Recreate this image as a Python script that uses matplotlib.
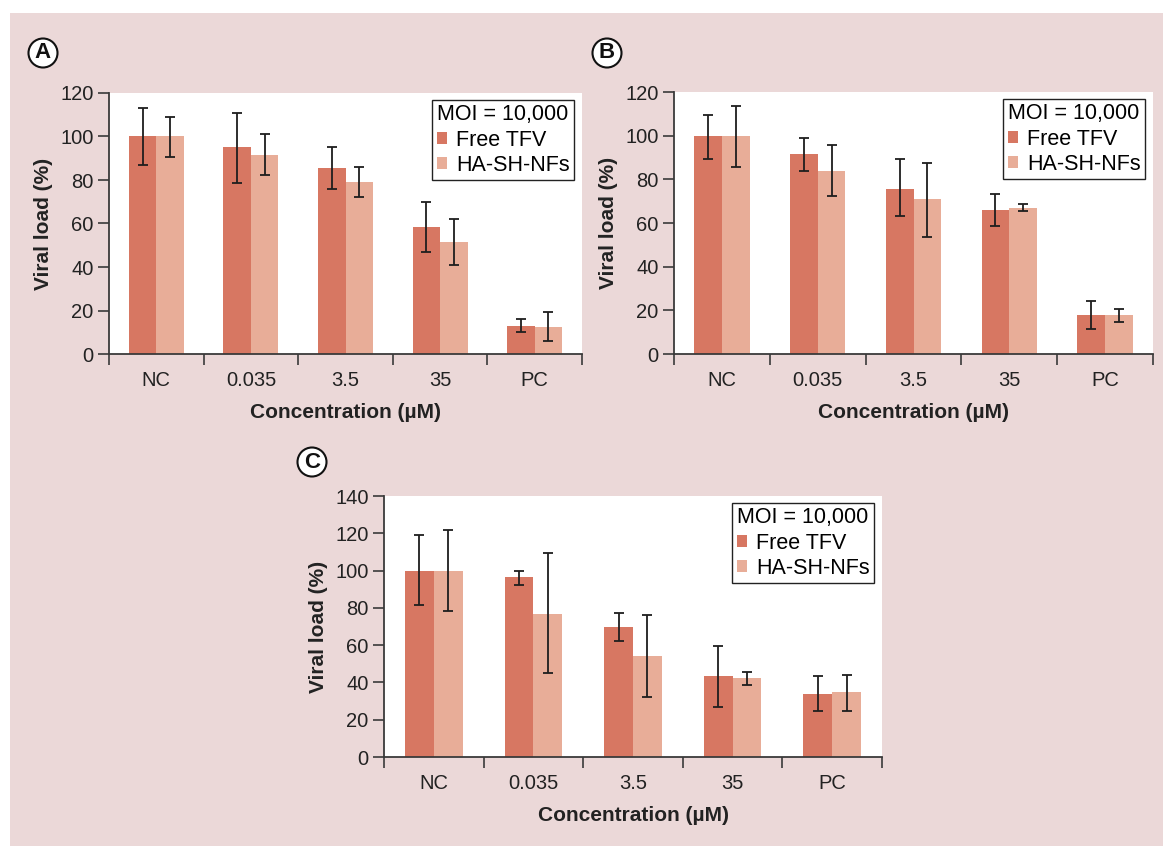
import matplotlib
matplotlib.use("Agg")
import matplotlib.pyplot as plt
from matplotlib.patches import Rectangle, Patch
import numpy as np

plt.rcParams['font.family'] = ['Liberation Sans', 'DejaVu Sans']

categories = ["NC", "0.035", "3.5", "35", "PC"]
series_names = ["Free TFV", "HA-SH-NFs"]
legend_title = "MOI = 10,000"
ylabel = "Viral load (%)"
xlabel = "Concentration (µM)"

# Panel A
a_free = [100, 95.2, 85.5, 58.4, 12.9]
a_free_lo = [87, 78.6, 76, 47, 10.1]
a_free_hi = [113, 111, 95, 70, 16]
a_ha = [100, 91.5, 79.3, 51.5, 12.4]
a_ha_lo = [90.7, 82.2, 72, 41, 6.1]
a_ha_hi = [109, 101, 86, 62, 19.2]

# Panel B
b_free = [100, 91.5, 75.8, 66, 17.9]
b_free_lo = [89.5, 84, 63, 58.5, 11.5]
b_free_hi = [109.6, 99, 89.5, 73.3, 24.3]
b_ha = [100, 83.6, 70.8, 67, 17.9]
b_ha_lo = [85.5, 72.5, 53.5, 65.5, 14.8]
b_ha_hi = [113.8, 95.5, 87.7, 68.7, 20.4]

# Panel C
c_free = [100, 96.5, 69.7, 43.3, 33.7]
c_free_lo = [81.4, 92.3, 62.2, 27, 24.6]
c_free_hi = [119, 100, 77.2, 59.6, 43.2]
c_ha = [100, 76.8, 54.2, 42.3, 34.8]
c_ha_lo = [78.3, 45.2, 32.2, 38.6, 24.6]
c_ha_hi = [122, 109.2, 76.2, 45.4, 44.2]

col_free = "#d77762"
col_ha = "#e8ad98"
bg = "#ebd8d8"
spine_col = "#3a3a3a"
err_col = "#1e1e1e"

W, H = 1163, 846
fig = plt.figure(figsize=(W / 100, H / 100), dpi=100)
fig.patch.set_facecolor("white")
fig.patches.append(Rectangle((10 / W, 0), 1 - 10 / W, (H - 13) / H,
                             transform=fig.transFigure, facecolor=bg,
                             edgecolor="none", zorder=-10))

FS_TICK = 14.5
FS_LAB = 15
FS_LEG = 15.5


def panel(rect_px, letter, letter_xy, free, flo, fhi, ha, hlo, hhi, ymax):
    x0, y_top, x1, y_bot = rect_px
    ax = fig.add_axes([x0 / W, (H - y_bot) / H, (x1 - x0) / W, (y_bot - y_top) / H])
    ax.set_facecolor("white")
    x = np.arange(len(categories))
    bw = 0.29
    free = np.array(free); ha = np.array(ha)
    ax.bar(x - bw / 2, free, bw, color=col_free, zorder=2)
    ax.bar(x + bw / 2, ha, bw, color=col_ha, zorder=2)
    ax.errorbar(x - bw / 2, free, yerr=[free - np.array(flo), np.array(fhi) - free],
                fmt="none", ecolor=err_col, elinewidth=1.3, capsize=3.4, capthick=1.3, zorder=3)
    ax.errorbar(x + bw / 2, ha, yerr=[ha - np.array(hlo), np.array(hhi) - ha],
                fmt="none", ecolor=err_col, elinewidth=1.3, capsize=3.4, capthick=1.3, zorder=3)
    ax.set_xlim(-0.5, len(categories) - 0.5)
    ax.set_ylim(0, ymax)
    ax.set_yticks(np.arange(0, ymax + 1, 20))
    ax.set_xticks(np.arange(-0.5, len(categories), 1.0))
    ax.set_xticklabels([])
    ax.set_xticks(x, minor=True)
    ax.set_xticklabels(categories, minor=True)
    ax.tick_params(axis="x", which="major", length=8, width=1.2, color=spine_col, direction="out")
    ax.tick_params(axis="x", which="minor", length=0, pad=12, labelsize=FS_TICK, labelcolor="#222222")
    ax.tick_params(axis="y", length=8, width=1.2, color=spine_col, pad=3,
                   labelsize=FS_TICK, labelcolor="#222222")
    for s in ["top", "right"]:
        ax.spines[s].set_visible(False)
    for s in ["left", "bottom"]:
        ax.spines[s].set_color(spine_col)
        ax.spines[s].set_linewidth(1.3)
    ax.spines["left"].set_bounds(0, ymax)
    ax.set_ylabel(ylabel, fontsize=FS_LAB, fontweight="bold", color="#222222")
    ax.yaxis.set_label_coords(-56 / (x1 - x0), 0.5)
    ax.set_xlabel(xlabel, fontsize=FS_LAB, fontweight="bold", color="#222222")
    ax.xaxis.set_label_coords(0.5, -49 / (y_bot - y_top))
    handles = [Patch(facecolor=col_free, edgecolor="none"),
               Patch(facecolor=col_ha, edgecolor="none")]
    leg = ax.legend(handles, series_names, title=legend_title, loc="upper right",
                    bbox_to_anchor=(1 - 8 / (x1 - x0), 1 - 7 / (y_bot - y_top)),
                    borderaxespad=0, fontsize=FS_LEG, title_fontsize=FS_LEG,
                    frameon=True, fancybox=False, framealpha=1, edgecolor="#222222",
                    handlelength=0.5, handleheight=0.5, handletextpad=0.4,
                    borderpad=0.2, labelspacing=0.2, alignment="left")
    leg.get_frame().set_linewidth(1.0)
    fig.text(letter_xy[0] / W, (H - letter_xy[1]) / H, letter, fontsize=16, fontweight="bold",
             ha="center", va="center", color="#111111",
             bbox=dict(boxstyle="circle,pad=0.18", facecolor="white", edgecolor="#111111", linewidth=1.5))
    return ax


panel((109, 93, 582, 354), "A", (43, 53), a_free, a_free_lo, a_free_hi, a_ha, a_ha_lo, a_ha_hi, 120)
panel((674, 92, 1153, 354), "B", (607, 53), b_free, b_free_lo, b_free_hi, b_ha, b_ha_lo, b_ha_hi, 120)
panel((384, 496, 882, 757), "C", (312, 462), c_free, c_free_lo, c_free_hi, c_ha, c_ha_lo, c_ha_hi, 140)

fig.savefig("out.png", dpi=100)
